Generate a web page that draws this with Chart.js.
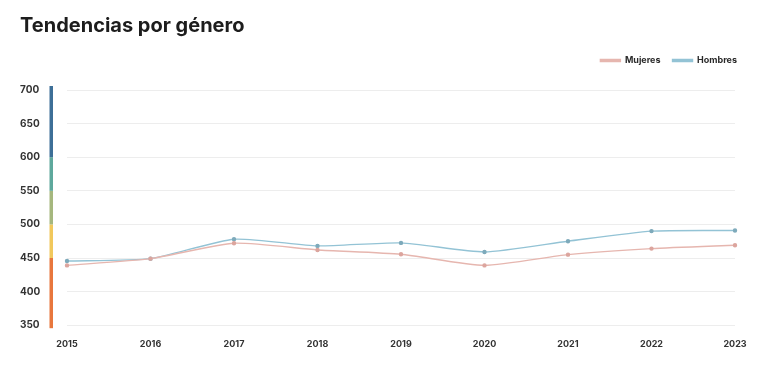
<!DOCTYPE html>
<html>
<head>
<meta charset="utf-8">
<script src="https://cdn.jsdelivr.net/npm/chart.js@4"></script>
<style>
  html, body { margin: 0; padding: 0; background: #ffffff; }
  #wrap { width: 769px; height: 372px; position: relative; }
</style>
</head>
<body>
<div id="wrap"><canvas id="c" width="769" height="372"></canvas></div>
<script>
const years = ['2015','2016','2017','2018','2019','2020','2021','2022','2023'];
const mujeres = [439, 449, 472, 462, 455.5, 439, 455, 464, 469];
const hombres = [445.5, 449, 478, 468, 472.5, 459, 475, 490, 491];
const bandBreaks = [350, 450, 500, 550, 600, 700];
const yTicks = [350, 400, 450, 500, 550, 600, 650, 700];

const bandColors = ['#E8773D', '#F1C85C', '#A5B77E', '#5EA89C', '#3D6F97'];

const colorBar = {
  id: 'colorBar',
  beforeDatasetsDraw(chart) {
    const y = chart.scales.y;
    const ctx = chart.ctx;
    ctx.save();
    for (let i = 0; i < bandBreaks.length - 1; i++) {
      let top = y.getPixelForValue(bandBreaks[i + 1]);
      let bot = y.getPixelForValue(bandBreaks[i]);
      if (i === bandBreaks.length - 2) top -= 4;
      if (i === 0) bot += 3;
      ctx.fillStyle = bandColors[i];
      ctx.fillRect(49.5, top, 3.5, bot - top);
    }
    ctx.restore();
  }
};

const legendSpace = {
  id: 'legendSpace',
  afterInit(chart) {
    const lg = chart.legend;
    if (lg && !lg._patched) {
      const origFit = lg.fit;
      lg.fit = function () { origFit.call(this); this.height += 15; };
      const origDraw = lg.draw;
      lg.draw = function () {
        const ctx = this.ctx;
        ctx.save();
        ctx.translate(14, 0);
        origDraw.call(this);
        ctx.restore();
      };
      lg._patched = true;
    }
  }
};

new Chart(document.getElementById('c'), {
  type: 'line',
  data: {
    labels: years,
    datasets: [
      {
        label: 'Mujeres',
        data: mujeres,
        borderColor: '#E6B6AF',
        backgroundColor: '#E6B6AF',
        pointBackgroundColor: '#DCA59E',
        pointBorderColor: '#DCA59E',
        pointRadius: 1.5,
        borderWidth: 1.4,
        tension: 0.2
      },
      {
        label: 'Hombres',
        data: hombres,
        borderColor: '#93C3D5',
        backgroundColor: '#93C3D5',
        pointBackgroundColor: '#7EAABB',
        pointBorderColor: '#7EAABB',
        pointRadius: 1.5,
        borderWidth: 1.4,
        tension: 0.2
      }
    ]
  },
  options: {
    responsive: false,
    animation: false,
    layout: { padding: { left: 20, right: 34, top: 14, bottom: 16 } },
    plugins: {
      title: {
        display: true,
        text: 'Tendencias por género',
        align: 'start',
        color: '#1d1d1d',
        font: { family: 'Inter', size: 20, weight: 'bold' },
        padding: { top: 0, bottom: 6 }
      },
      legend: {
        position: 'top',
        align: 'end',
        labels: {
          boxWidth: 20,
          boxHeight: 2,
          color: '#2a2a2a',
          font: { family: 'Inter', size: 9, weight: 'bold' },
          padding: 12
        }
      },
      tooltip: { enabled: false }
    },
    scales: {
      x: {
        offset: false,
        grid: { display: false },
        border: { display: false },
        ticks: {
          color: '#333333',
          font: { family: 'Inter', size: 9, weight: 'bold' },
          padding: 6,
          maxRotation: 0
        }
      },
      y: {
        min: 350,
        max: 700,
        afterBuildTicks(scale) { scale.ticks = yTicks.map(v => ({ value: v })); },
        afterFit(scale) { scale.width = 47; },
        grid: { color: '#EDEDED', drawTicks: false, lineWidth: 1 },
        border: { display: false },
        ticks: {
          color: '#333333',
          crossAlign: 'far',
          padding: 0,
          font: { family: 'Inter', size: 10, weight: 'bold' }
        }
      }
    }
  },
  plugins: [colorBar, legendSpace]
});
</script>
</body>
</html>
